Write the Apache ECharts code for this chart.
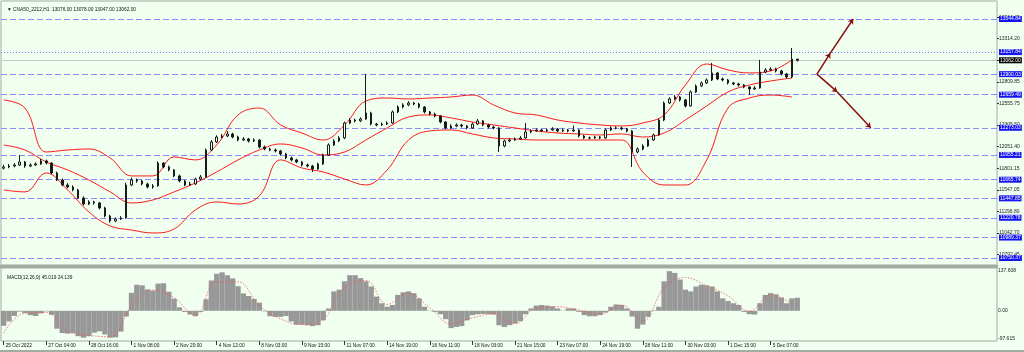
<!DOCTYPE html>
<html>
<head>
<meta charset="utf-8">
<title>CNA50_2212,H1</title>
<script src="https://cdn.jsdelivr.net/npm/echarts@6/dist/echarts.min.js"></script>
<style>
  html, body { margin: 0; padding: 0; background: #f0fff0; }
  #main { width: 1024px; height: 352px; }
</style>
</head>
<body>
<div id="main"></div>
<script type="text/javascript">
// hourly bars: [open, high, low, close]
var ohlc = [
  [11800,11840,11785,11815],[11815,11850,11800,11826],[11826,11860,11810,11838],[11838,11955,11825,11873],[11873,11885,11805,11826],
  [11826,11858,11812,11838],[11838,11870,11825,11850],[11850,11910,11840,11885],[11885,11900,11845,11861],[11861,11870,11730,11745],
  [11745,11760,11650,11663],[11663,11680,11590,11604],[11604,11625,11565,11581],[11581,11600,11530,11546],[11546,11560,11440,11452],
  [11452,11470,11365,11382],[11382,11425,11370,11406],[11406,11420,11375,11394],[11394,11405,11320,11335],[11335,11350,11225,11242],
  [11242,11255,11165,11183],[11183,11225,11170,11207],[11207,11240,11195,11219],[11219,11630,11210,11604],[11604,11690,11590,11663],
  [11663,11680,11630,11651],[11651,11665,11600,11616],[11616,11630,11565,11581],[11581,11615,11560,11593],[11593,11880,11585,11861],
  [11861,11870,11800,11815],[11815,11830,11765,11780],[11780,11790,11695,11710],[11710,11725,11635,11651],[11651,11665,11590,11604],
  [11604,11640,11595,11616],[11616,11690,11605,11674],[11674,11720,11660,11698],[11698,12030,11690,12013],[12013,12130,12000,12107],
  [12107,12185,12095,12165],[12165,12200,12150,12177],[12177,12235,12165,12200],[12200,12215,12150,12165],[12165,12180,12115,12130],
  [12130,12165,12120,12142],[12142,12155,12100,12119],[12119,12150,12105,12130],[12130,12140,12030,12049],[12049,12065,12010,12025],
  [12025,12040,12000,12013],[12013,12030,11985,12002],[12002,12015,11950,11967],[11967,11980,11905,11920],[11920,11935,11880,11897],
  [11897,11910,11860,11873],[11873,11885,11820,11838],[11838,11855,11810,11826],[11826,11840,11756,11791],[11791,11865,11780,11850],
  [11850,11970,11840,11955],[11955,12090,11945,12072],[12072,12140,12060,12119],[12119,12175,12105,12154],[12154,12345,12140,12329],
  [12329,12385,12315,12364],[12364,12380,12335,12353],[12353,12395,12340,12376],[12376,12902,12365,12446],[12446,12460,12300,12317],
  [12317,12330,12290,12306],[12306,12335,12295,12317],[12317,12350,12305,12329],[12329,12475,12320,12458],[12458,12535,12445,12516],
  [12516,12560,12500,12540],[12540,12585,12525,12563],[12563,12575,12535,12551],[12551,12565,12500,12516],[12516,12525,12440,12458],
  [12458,12470,12420,12434],[12434,12450,12395,12411],[12411,12420,12325,12341],[12341,12350,12255,12271],[12271,12315,12260,12294],
  [12294,12325,12280,12306],[12306,12320,12275,12294],[12294,12305,12255,12271],[12271,12335,12260,12317],[12317,12375,12305,12353],
  [12353,12365,12290,12306],[12306,12320,12265,12282],[12282,12295,12255,12271],[12271,12280,11990,12060],[12060,12135,12045,12119],
  [12119,12150,12105,12130],[12130,12160,12120,12142],[12142,12175,12130,12154],[12154,12329,12145,12224],[12224,12255,12210,12236],
  [12236,12265,12225,12247],[12247,12260,12220,12236],[12236,12265,12225,12247],[12247,12280,12235,12259],[12259,12270,12220,12236],
  [12236,12265,12225,12247],[12247,12260,12220,12236],[12236,12300,12225,12247],[12247,12255,12160,12177],[12177,12190,12140,12154],
  [12154,12170,12138,12154],[12154,12180,12140,12165],[12165,12175,12140,12154],[12154,12265,12145,12247],[12247,12290,12235,12271],
  [12271,12290,12255,12271],[12271,12285,12245,12259],[12259,12270,12220,12236],[12236,12245,11815,11990],[11990,12045,11975,12025],
  [12025,12080,12010,12060],[12060,12150,12050,12130],[12130,12205,12120,12189],[12189,12380,12180,12364],[12364,12580,12350,12563],
  [12563,12630,12550,12610],[12610,12655,12595,12633],[12633,12645,12580,12598],[12598,12610,12510,12528],[12528,12710,12520,12692],
  [12692,12780,12680,12762],[12762,12815,12750,12797],[12797,12850,12785,12832],[12832,13031,12820,12914],[12914,12925,12830,12844],
  [12844,12860,12815,12832],[12832,12845,12780,12797],[12797,12810,12770,12785],[12785,12800,12755,12773],[12773,12785,12735,12750],
  [12750,12760,12656,12727],[12727,12760,12715,12738],[12738,13066,12730,12925],[12925,12970,12910,12949],[12949,12980,12935,12960],
  [12960,12975,12920,12937],[12937,12950,12885,12902],[12902,12915,12850,12867],[12867,13206,12855,13076],[13076,13078,13047,13062]
];

var timeLabels = ['25 Oct 2022', '27 Oct 04:00', '28 Oct 16:00', '1 Nov 08:00', '2 Nov 20:00', '4 Nov 12:00',
  '8 Nov 03:00', '9 Nov 15:00', '11 Nov 07:00', '14 Nov 19:00', '16 Nov 11:00', '18 Nov 03:00',
  '21 Nov 15:00', '23 Nov 07:00', '24 Nov 19:00', '28 Nov 11:00', '30 Nov 03:00', '1 Dec 15:00', '5 Dec 07:00'];
var barsPerLabel = 8;
var slotCount = 187;   // bars + empty shift area on the right

// Bollinger bands read every 4th bar
var bandIndex = [0,4,8,12,16,20,24,28,32,36,40,44,48,52,56,60,64,68,72,76,80,84,88,92,96,100,104,108,112,116,120,124,128,132,136,140,144,148];
var bbUpper = [12598,12504,11990,12013,12025,11920,11710,11710,11932,11897,12072,12423,12504,12306,12212,12130,12306,12586,12621,12610,
  12621,12633,12656,12540,12446,12423,12364,12329,12306,12294,12329,12423,12773,13019,12949,12914,12937,13066];
var bbMiddle = [12072,12013,11873,11780,11663,11523,11394,11429,11523,11628,11756,11897,12013,12084,12037,11955,11990,12130,12271,12399,
  12423,12388,12341,12306,12271,12236,12212,12201,12189,12201,12165,12212,12364,12528,12692,12773,12820,12855];
var bbLower = [11546,11523,11745,11546,11289,11125,11078,11043,11090,11312,11406,11382,11476,11897,11803,11756,11674,11604,11780,12130,
  12236,12247,12201,12154,12142,12130,12130,12130,12130,12130,11756,11604,11604,11897,12504,12621,12656,12633];

// MACD(12,26,9)
var macdMain = [
  -52,-37,-18,-3,-8,-15,-18,-9,-2,-14,
  -62,-77,-79,-77,-88,-93,-88,-76,-71,-82,
  -93,-92,-72,-20,62,90,88,74,70,94,
  95,66,42,12,-4,-13,-19,-4,40,105,
  128,133,123,112,85,60,51,41,28,-2,
  -19,-21,-21,-18,-37,-48,-48,-50,-53,-50,
  -33,8,67,73,102,123,123,113,102,84,
  49,26,14,20,55,64,67,61,43,14,
  -1,-4,-12,-29,-60,-56,-53,-33,-15,-12,
  -11,-12,-13,-50,-56,-50,-44,-36,-12,8,
  18,20,18,15,8,1,8,8,-4,-15,
  -19,-19,-15,-6,14,22,20,8,-20,-62,
  -48,-21,2,14,102,137,131,108,73,67,
  84,90,88,84,67,43,34,26,20,-4,
  -12,-13,26,55,61,57,46,26,43,45
];
var macdSignal = [-76,-8,-6,-70,-85,-90,15,72,45,-16,100,100,18,-28,-48,-30,80,105,22,60,
  10,-45,-25,-10,-45,10,14,3,-12,20,-35,80,115,86,52,-2,55,24];

var levels = [13544.84, 12900.03, 12659.49, 12273.03, 11955.21, 11665.74, 11447.85, 11220.78, 10989.37, 10750.37];
var dottedLevel = 13157.84;
var lastPrice = 13062.00;
var priceTicks = [13564.45, 13314.20, 13060.10, 12809.85, 12555.75, 12305.50, 12051.40, 11801.15, 11547.05, 11296.80, 11042.70, 10792.45];
var macdTicks = [137.608, 0, -97.615];

// scenario arrows: [bar position, price]
var arrows = [
  [[152.7, 12900.03], [155.2, 13145]],
  [[155.2, 13145], [159.5, 13544.84]],
  [[152.7, 12900.03], [156.5, 12692]],
  [[156.5, 12692], [162.8, 12273.03]]
];

var FONT = 'Liberation Sans';
var slots = [];
for (var i = 0; i < slotCount; i++) slots.push(String(i));

function showLabel(index) {
  return index % barsPerLabel === 0 && index / barsPerLabel < timeLabels.length;
}

var blueLabel = {
  show: true, position: 'end', distance: 2,
  formatter: function (p) { return p.value.toFixed(2); },
  backgroundColor: '#1414f0', color: '#ffffff', fontSize: 5, fontFamily: FONT, padding: [1, 1, 0, 1]
};

var levelLines = levels.map(function (v) {
  return { yAxis: v, lineStyle: { type: [6, 3], color: '#8c8cff', width: 1 }, label: blueLabel };
});
levelLines.push({ yAxis: dottedLevel, lineStyle: { type: [1, 2], color: '#7a7aff', width: 1 }, label: blueLabel });
levelLines.push({
  yAxis: lastPrice, lineStyle: { type: 'solid', color: '#c4c8c4', width: 1 },
  label: Object.assign({}, blueLabel, { backgroundColor: '#000000' })
});

function pairs(idx, vals) {
  return idx.map(function (x, k) { return [x, vals[k]]; });
}

function bandSeries(vals) {
  return {
    type: 'line', xAxisIndex: 2, yAxisIndex: 0, data: pairs(bandIndex, vals),
    smooth: 0.4, showSymbol: false, silent: true,
    lineStyle: { color: '#ff1a1a', width: 1 }, z: 3
  };
}

var chart = echarts.init(document.getElementById('main'));

var option = {
  backgroundColor: '#f0fff0',
  animation: false,
  title: [
    { text: '\u25BC CNA50_2212,H1  13076.00 13078.00 13047.00 13062.00', left: 2, top: 2,
      textStyle: { fontSize: 4.8, fontWeight: 'normal', color: '#111', fontFamily: FONT } },
    { text: 'MACD(12,26,9) 45.019 24.139', left: 2, top: 270,
      textStyle: { fontSize: 4.8, fontWeight: 'normal', color: '#111', fontFamily: FONT } }
  ],
  graphic: [
    { type: 'rect', shape: { x: 0, y: 265, width: 998, height: 3 }, style: { fill: '#a3aba3' } },
    { type: 'rect', shape: { x: 0, y: 350, width: 1024, height: 2 }, style: { fill: '#a3aba3' } }
  ],
  grid: [
    { left: 1, right: 27, top: 1, height: 264, show: true, borderColor: '#a3aba3', borderWidth: 1, backgroundColor: 'transparent' },
    { left: 1, right: 27, top: 268, height: 73, show: true, borderColor: '#a3aba3', borderWidth: 1, backgroundColor: 'transparent' }
  ],
  xAxis: [
    { type: 'category', gridIndex: 0, data: slots, boundaryGap: true,
      axisLine: { show: false }, axisTick: { show: false }, axisLabel: { show: false }, splitLine: { show: false } },
    { type: 'category', gridIndex: 1, data: slots, boundaryGap: true,
      axisLine: { show: false, onZero: false },
      axisTick: { show: true, alignWithLabel: true, interval: showLabel, length: 4, lineStyle: { color: '#333' } },
      axisLabel: { interval: showLabel, align: 'left', margin: 2, padding: [0, 0, 0, 2],
        fontSize: 4.8, color: '#111', fontFamily: FONT,
        formatter: function (v, idx) { return timeLabels[Math.round(idx / barsPerLabel)] || ''; } },
      splitLine: { show: false } },
    { type: 'value', gridIndex: 0, min: -0.5, max: slotCount - 0.5, show: false },
    { type: 'value', gridIndex: 1, min: -0.5, max: slotCount - 0.5, show: false }
  ],
  yAxis: [
    { type: 'value', gridIndex: 0, position: 'right', min: 10668.54, max: 13755.26,
      splitLine: { show: false }, axisLine: { show: false, onZero: false },
      axisTick: { show: true, customValues: priceTicks, length: 2, lineStyle: { color: '#333' } },
      axisLabel: { customValues: priceTicks, margin: 2, fontSize: 5, color: '#222', fontFamily: FONT,
        formatter: function (v) { return v.toFixed(2); } } },
    { type: 'value', gridIndex: 1, position: 'right', min: -104.533, max: 147.985,
      splitLine: { show: false }, axisLine: { show: false, onZero: false },
      axisTick: { show: false },
      axisLabel: { customValues: macdTicks, margin: 1, fontSize: 5, color: '#222', fontFamily: FONT,
        formatter: function (v) { return v === 0 ? '0.00' : v.toFixed(3); } } }
  ],
  series: [
    {
      type: 'candlestick', xAxisIndex: 0, yAxisIndex: 0, barWidth: 2, silent: true,
      data: ohlc.map(function (d) { return [d[0], d[3], d[2], d[1]]; }),
      itemStyle: { color: '#f0fff0', color0: '#1a1a1a', borderColor: '#1a1a1a', borderColor0: '#1a1a1a', borderWidth: 1 },
      z: 4,
      markLine: { silent: true, symbol: ['none', 'none'], animation: false, data: levelLines, z: 2 }
    },
    bandSeries(bbUpper),
    bandSeries(bbMiddle),
    bandSeries(bbLower),
    {
      type: 'lines', coordinateSystem: 'cartesian2d', xAxisIndex: 2, yAxisIndex: 0, silent: true,
      data: arrows.map(function (c) { return { coords: c }; }),
      symbol: ['none', 'arrow'], symbolSize: 5,
      lineStyle: { color: '#8b0d0d', width: 1.5, opacity: 1 }, z: 5
    },
    {
      type: 'bar', xAxisIndex: 1, yAxisIndex: 1, data: macdMain, silent: true,
      barWidth: '100%', itemStyle: { color: '#989898' }
    },
    {
      type: 'line', xAxisIndex: 3, yAxisIndex: 1, data: pairs(bandIndex, macdSignal), silent: true,
      smooth: 0.4, showSymbol: false, lineStyle: { color: '#f05a5a', width: 0.8, type: [1.5, 1.5] }, z: 3
    }
  ]
};

chart.setOption(option);
</script>
</body>
</html>
